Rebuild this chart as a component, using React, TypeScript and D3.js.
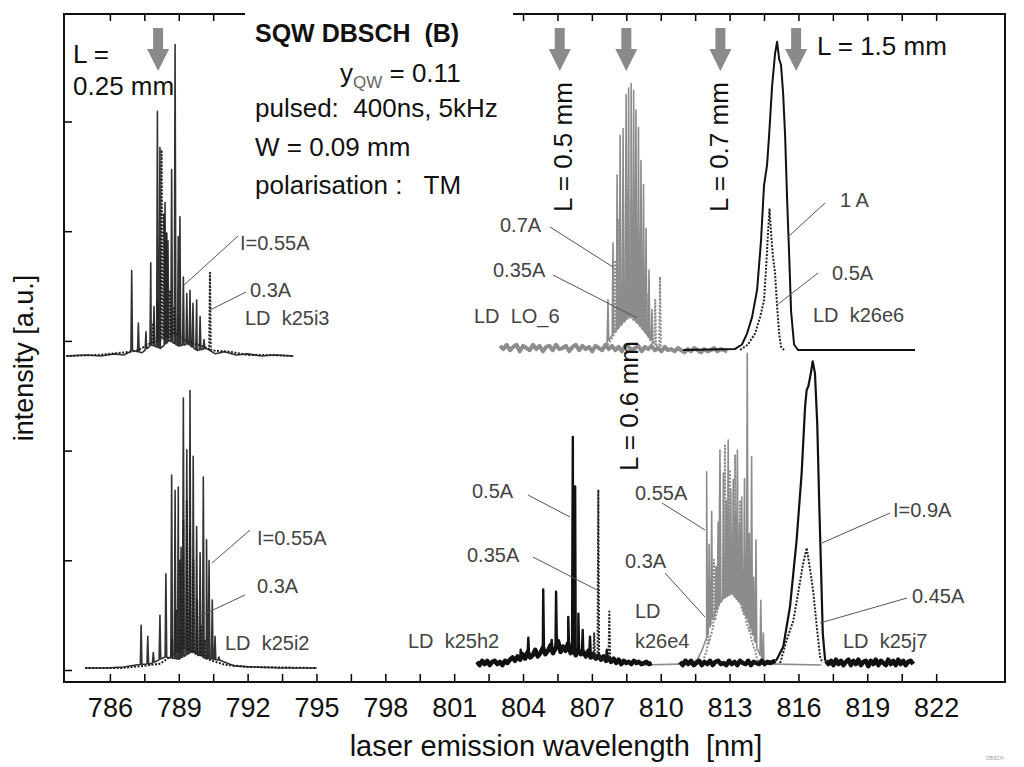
import * as d3 from "d3";
import { useEffect, useRef } from "react";

type P = [number, number];

// axes
const xLabels = [786, 789, 792, 795, 798, 801, 804, 807, 810, 813, 816, 819, 822];
const yTicks = [0, 1, 2, 3, 4, 5];

// cavity mode arrows (nm)
const arrowNm = [788.1, 805.6, 808.5, 812.6, 815.9];

// baselines of each group (a.u.)
const baseUL = 2.862;
const baseLO6 = 2.935;
const baseK26e6 = 2.917;
const baseLL = 0.018;
const baseK25h2 = 0.064;
const baseK26e4 = 0.046;
const baseK25j7 = 0.064;

// --- L = 0.25 mm, LD k25i3 ---
const k25i3Bg055: P[] = [[784.1, 0], [785.0, 0.01], [785.6, 0], [786.2, 0.02], [786.6, 0.01], [787.0, 0.05], [787.4, 0.03], [787.8, 0.1], [788.2, 0.07], [788.6, 0.14], [789.0, 0.09], [789.4, 0.11], [789.8, 0.05], [790.2, 0.07], [790.6, 0.02], [791.0, 0.04], [791.5, 0.01], [792.0, 0.02], [792.6, 0.0], [793.2, 0.01], [794.0, 0]];
const k25i3Modes055: P[] = [[786.95, 0.78], [787.24, 0.3], [787.57, 0.22], [787.78, 0.85], [787.92, 0.45], [788.07, 2.23], [788.18, 1.9], [788.4, 1.4], [788.53, 1.05], [788.69, 1.7], [788.84, 2.84], [788.98, 1.09], [789.05, 1.27], [789.2, 0.72], [789.35, 0.57], [789.49, 0.6], [789.62, 0.48], [789.78, 0.51], [789.93, 0.36], [790.1, 0.15]];
const k25i3Bg03: P[] = [[784.1, 0], [785.5, 0.01], [786.5, 0.03], [787.2, 0.05], [787.8, 0.12], [788.4, 0.16], [788.9, 0.2], [789.4, 0.13], [789.9, 0.1], [790.5, 0.05], [791.2, 0.04], [792.0, 0.01], [793.0, 0.01], [794.0, 0]];
const k25i3Modes03: P[] = [[787.88, 0.3], [788.09, 0.5], [788.25, 1.88], [788.36, 1.3], [788.47, 1.12], [788.62, 0.6], [788.8, 0.45], [789.0, 0.35], [790.36, 0.76]];

// --- L = 0.5 mm, LD LO_6 ---
const lo6Noise = [0.02, -0.01, 0.03, -0.02, 0.01, 0.03, -0.03, 0.02, 0.0, -0.02, 0.03, -0.01, 0.02, -0.03, 0.01, 0.02, -0.02, 0.03, -0.01, 0.0, 0.02, -0.03, 0.01, 0.03, -0.02, 0.02, -0.01, 0.01, -0.03, 0.02, 0.0, -0.02, 0.03, -0.01, 0.02, -0.02, 0.01, -0.03, 0.02, 0.01, -0.02, 0.0, 0.02, -0.03, 0.01, -0.01, 0.02, -0.02, 0.0, -0.03, 0.01, -0.02, -0.01, -0.03, 0.0, -0.02, -0.04, -0.01, -0.03, 0.0, -0.02, -0.04, -0.01, -0.03, -0.02, 0.0, -0.03, -0.01, -0.02, -0.03];
const lo6Bg07: P[] = [[807.5, 0], [808.0, 0.15], [808.7, 0.3], [809.4, 0.12], [809.9, 0]];
const lo6Modes07: P[] = [[807.7, 0.44], [807.92, 0.96], [808.1, 1.58], [808.23, 1.94], [808.36, 2.0], [808.49, 2.31], [808.6, 2.37], [808.71, 2.41], [808.82, 2.35], [808.92, 2.17], [809.03, 2.01], [809.14, 1.71], [809.25, 1.49], [809.36, 1.09], [809.49, 0.71], [809.62, 0.35]];
const lo6Bg035: P[] = [[807.6, 0], [807.9, 0.1], [808.5, 0.3], [809.2, 0.2], [809.6, 0.05], [810.3, 0]];
const lo6Modes035: P[] = [[808.01, 0.8], [808.18, 1.17], [808.36, 1.39], [808.53, 1.44], [808.71, 1.35], [808.88, 1.21], [809.06, 1.03], [809.23, 0.8], [809.41, 0.48], [809.76, 0.44], [809.97, 0.65]];

// --- L = 0.7 mm, LD k26e6 ---
const k26e6I1: P[] = [[810.97, 0], [813.24, 0.01], [813.54, 0.05], [813.76, 0.15], [813.98, 0.3], [814.2, 0.55], [814.37, 1.0], [814.5, 1.5], [814.63, 1.68], [814.72, 1.95], [814.85, 2.4], [814.98, 2.7], [815.07, 2.81], [815.16, 2.65], [815.24, 2.6], [815.33, 2.35], [815.42, 1.95], [815.51, 1.35], [815.59, 0.9], [815.68, 0.35], [815.81, 0.05], [815.98, 0], [821.08, 0]];
const k26e6I05: P[] = [[813.46, 0], [813.8, 0.05], [814.11, 0.15], [814.33, 0.3], [814.5, 0.45], [814.59, 0.75], [814.67, 1.05], [814.74, 1.29], [814.83, 1.0], [814.89, 0.85], [814.98, 0.7], [815.07, 0.4], [815.16, 0.15], [815.24, 0.03], [815.37, 0]];

// --- L = 0.25 mm, LD k25i2 ---
const k25i2Bg055: P[] = [[784.92, 0], [785.8, 0.0], [786.6, 0.01], [787.2, 0.03], [787.8, 0.04], [788.4, 0.1], [789.0, 0.08], [789.6, 0.15], [790.2, 0.09], [790.8, 0.07], [791.4, 0.02], [792.2, 0.01], [793.5, 0.0], [795.01, 0]];
const k25i2Modes055: P[] = [[787.36, 0.39], [787.65, 0.29], [787.89, 0.14], [788.18, 0.48], [788.44, 0.86], [788.69, 1.76], [788.84, 1.62], [788.98, 1.65], [789.1, 1.1], [789.2, 2.46], [789.35, 1.99], [789.49, 2.53], [789.63, 1.93], [789.78, 1.29], [789.93, 1.05], [790.07, 1.74], [790.21, 1.17], [790.32, 0.98], [790.46, 0.62], [790.58, 0.29], [790.75, 0.1]];
const k25i2Bg03: P[] = [[784.92, 0], [786.5, 0.0], [787.5, 0.02], [788.2, 0.04], [788.8, 0.13], [789.3, 0.18], [789.8, 0.12], [790.4, 0.07], [791.0, 0.03], [792.0, 0.01], [795.01, 0]];
const k25i2Modes03: P[] = [[788.71, 0.26], [788.88, 0.53], [789.05, 0.98], [789.2, 1.35], [789.35, 1.53], [789.49, 1.3], [789.64, 0.98], [789.8, 0.62], [789.97, 0.39], [790.14, 0.26]];

// --- L = 0.5 mm, LD k25h2 ---
const k25h2Noise = [0.01, -0.02, 0.02, -0.01, 0.02, -0.02, 0.01, 0.02, -0.01, 0.01, -0.02, 0.02, 0.0, 0.03, 0.05, 0.02, 0.06, 0.03, 0.08, 0.04, 0.1, 0.05, 0.07, 0.12, 0.06, 0.09, 0.14, 0.08, 0.11, 0.16, 0.09, 0.13, 0.2, 0.1, 0.15, 0.11, 0.18, 0.09, 0.13, 0.07, 0.12, 0.08, 0.1, 0.06, 0.11, 0.05, 0.08, 0.04, 0.07, 0.03, 0.06, 0.02, 0.05, 0.01, 0.04, 0.0, 0.03, -0.01, 0.02, 0.0, 0.01, -0.01, 0.02, 0.0, 0.01, -0.01, 0.0, 0.01, -0.01, 0.0];
const k25h2Modes05: P[] = [[803.9, 0.12], [804.23, 0.23], [804.88, 0.67], [805.25, 0.21], [805.44, 0.65], [805.97, 0.42], [806.17, 2.06], [806.27, 1.61], [806.41, 0.45], [806.6, 0.3], [806.92, 0.24], [807.65, 0.12]];
const k25h2Bg035: P[] = [[806.7, 0.05], [807.9, 0.03]];
const k25h2Modes035: P[] = [[807.1, 0.27], [807.28, 1.58], [807.76, 0.47]];

// --- L = 0.6 mm, LD k26e4 ---
const k26e4Bg055: P[] = [[809.1, 0], [811.3, 0.01], [811.6, 0.05], [811.79, 0.13], [812.0, 0.25], [812.3, 0.45], [812.7, 0.6], [813.1, 0.65], [813.5, 0.55], [813.9, 0.35], [814.2, 0.15], [814.5, 0.01], [817.0, 0]];
const k26e4Modes055: P[] = [[812.0, 1.76], [812.11, 1.1], [812.22, 1.4], [812.41, 0.9], [812.5, 1.3], [812.58, 1.96], [812.73, 1.75], [812.85, 1.5], [812.94, 2.05], [813.05, 1.6], [813.16, 1.69], [813.25, 1.4], [813.34, 1.96], [813.44, 1.3], [813.53, 1.53], [813.65, 1.7], [813.77, 2.84], [813.86, 1.2], [813.96, 1.9], [814.05, 0.8], [814.15, 1.14], [814.36, 0.59], [814.47, 0.29]];
const k26e4Bg03: P[] = [[811.8, 0], [812.1, 0.2], [812.6, 0.6], [813.0, 0.7], [813.4, 0.6], [813.8, 0.35], [814.2, 0.05], [814.4, 0]];
const k26e4Modes03: P[] = [[812.06, 0.32], [812.32, 0.96], [812.58, 1.78], [812.8, 2.0], [813.02, 1.78], [813.24, 1.91], [813.46, 1.5], [813.67, 0.96], [813.89, 0.41], [814.11, 0.14]];

// --- L = 1.5 mm, LD k25j7 ---
const k25j7NoiseL = [0.01, -0.02, 0.02, -0.01, 0.02, -0.02, 0.0, 0.02, -0.02, 0.01, -0.01, 0.02, -0.02, 0.01, 0.02, -0.01, 0.0, -0.02, 0.02, -0.01, 0.01, -0.02, 0.02, 0.0, -0.01, 0.02, -0.02, 0.01, 0.0, -0.01, 0.02, -0.01, 0.01, 0.0, 0.01, 0.02];
const k25j7Peak09: P[] = [[815.0, 0.02], [815.05, 0.03], [815.34, 0.15], [815.63, 0.51], [815.92, 1.12], [816.14, 1.73], [816.29, 2.34], [816.36, 2.49], [816.43, 2.52], [816.54, 2.64], [816.62, 2.75], [816.72, 2.64], [816.82, 2.18], [816.91, 1.42], [816.99, 0.82], [817.06, 0.27], [817.16, 0.03], [817.2, 0.02]];
const k25j7NoiseR = [0.02, -0.01, 0.02, -0.02, 0.03, -0.01, 0.02, -0.02, 0.01, 0.03, -0.02, 0.02, -0.01, 0.03, -0.02, 0.01, 0.02, -0.03, 0.02, -0.01, 0.03, -0.02, 0.02, 0.0, -0.02, 0.03, -0.01, 0.02, -0.02, 0.03, -0.01, 0.02, -0.02, 0.01, 0.02, -0.01];
const k25j7Peak045: P[] = [[815.2, 0], [815.49, 0.21], [815.78, 0.39], [815.99, 0.64], [816.18, 0.88], [816.36, 1.05], [816.51, 0.85], [816.65, 0.64], [816.8, 0.33], [816.94, 0.06], [817.05, 0]];

const sampled = (from: number, to: number, vals: number[]): P[] =>
  vals.map((v, i) => [from + (i * (to - from)) / (vals.length - 1), v]);

// merge a background trace with narrow mode spikes
const withModes = (bg: P[], modes: P[], half = 0.035): P[] => {
  const b = d3.scaleLinear().domain(bg.map(d => d[0])).range(bg.map(d => d[1])).clamp(true);
  const pts: P[] = bg.map(d => [d[0], d[1]]);
  modes.forEach(([l, h]) => {
    pts.push([l - half, b(l - half)], [l, h], [l + half, b(l + half)]);
  });
  return pts.sort((a, c) => a[0] - c[0]);
};

const FONT = "'Liberation Sans', Arial, sans-serif";

export default function App() {
  const ref = useRef<SVGSVGElement>(null);

  useEffect(() => {
    const svg = d3.select(ref.current);
    svg.selectAll("*").remove();

    const x = d3.scaleLinear().domain([784, 825]).range([64, 1005]);
    const y = d3.scaleLinear().domain([0, 5]).range([670, 121.5]);
    const top = 14, bottom = 682, left = 64, right = 1005;

    svg.append("rect").attr("width", 1024).attr("height", 767).attr("fill", "#fff");

    const gray = "#8c8c8c";
    const dots = "2,1.5";
    const spectra = [
      { base: baseLO6, pts: sampled(803.0, 812.9, lo6Noise), color: gray, w: 4, dash: null },
      { base: baseLO6, pts: withModes(lo6Bg07, lo6Modes07), color: gray, w: 1.6, dash: null },
      { base: baseLO6, pts: withModes(lo6Bg035, lo6Modes035), color: gray, w: 2, dash: dots },
      { base: baseK26e4, pts: withModes(k26e4Bg055, k26e4Modes055), color: gray, w: 1.6, dash: null },
      { base: baseK26e4, pts: withModes(k26e4Bg03, k26e4Modes03), color: gray, w: 2, dash: dots },
      { base: baseUL, pts: withModes(k25i3Bg055, k25i3Modes055), color: "#333", w: 1.6, dash: null },
      { base: baseUL, pts: withModes(k25i3Bg03, k25i3Modes03), color: "#222", w: 2, dash: dots },
      { base: baseK26e6, pts: k26e6I1, color: "#111", w: 2, dash: null },
      { base: baseK26e6, pts: k26e6I05, color: "#222", w: 2, dash: dots },
      { base: baseLL, pts: withModes(k25i2Bg055, k25i2Modes055), color: "#333", w: 1.6, dash: null },
      { base: baseLL, pts: withModes(k25i2Bg03, k25i2Modes03), color: "#222", w: 2, dash: dots },
      { base: baseK25h2, pts: sampled(802.0, 809.6, k25h2Noise), color: "#111", w: 4.5, dash: null },
      { base: baseK25h2, pts: withModes(sampled(802.0, 809.6, k25h2Noise), k25h2Modes05), color: "#111", w: 2.4, dash: null },
      { base: baseK25h2, pts: withModes(k25h2Bg035, k25h2Modes035), color: "#222", w: 2, dash: dots },
      { base: baseK25j7, pts: sampled(810.84, 815.0, k25j7NoiseL), color: "#111", w: 4.5, dash: null },
      { base: baseK25j7, pts: sampled(817.2, 821.0, k25j7NoiseR), color: "#111", w: 4.5, dash: null },
      { base: baseK25j7, pts: k25j7Peak09, color: "#111", w: 2.2, dash: null },
      { base: baseK25j7, pts: k25j7Peak045, color: "#222", w: 2, dash: dots },
    ];

    const g = svg.append("g");
    spectra.forEach(s => {
      const line = d3.line<P>().x(d => x(d[0])).y(d => y(s.base + d[1]));
      g.append("path")
        .attr("d", line(s.pts))
        .attr("fill", "none")
        .attr("stroke", s.color)
        .attr("stroke-width", s.w)
        .attr("stroke-linejoin", "round")
        .attr("stroke-dasharray", s.dash);
    });

    // frame + ticks
    const minor = d3.range(786, 822.01, 1.5);
    svg.append("g")
      .attr("transform", `translate(0,${bottom})`)
      .call(d3.axisBottom(x).tickValues(minor).tickSize(-8).tickPadding(16)
        .tickFormat(d => (xLabels.includes(+d) ? String(d) : "")))
      .call(a => a.select(".domain").remove())
      .call(a => a.selectAll("line").attr("stroke-width", 1.5))
      .call(a => a.selectAll("text").attr("font-size", 27).attr("font-family", FONT).attr("fill", "#111"));
    svg.append("g")
      .attr("transform", `translate(0,${top})`)
      .call(d3.axisTop(x).tickValues(minor).tickSize(-7).tickFormat(() => ""))
      .call(a => a.select(".domain").remove())
      .call(a => a.selectAll("line").attr("stroke-width", 1.5));
    svg.append("g")
      .attr("transform", `translate(${left},0)`)
      .call(d3.axisLeft(y).tickValues(yTicks).tickSize(-8).tickFormat(() => ""))
      .call(a => a.select(".domain").remove())
      .call(a => a.selectAll("line").attr("stroke-width", 1.5));
    svg.append("rect")
      .attr("x", left).attr("y", top).attr("width", right - left).attr("height", bottom - top)
      .attr("fill", "none").attr("stroke", "#111").attr("stroke-width", 2);
    // title box hides the top edge
    svg.append("rect").attr("x", 245).attr("y", 0).attr("width", 268).attr("height", 22).attr("fill", "#fff");

    // arrows
    arrowNm.forEach(l => {
      const cx = x(l);
      svg.append("path")
        .attr("d", `M${cx - 5},28 L${cx + 5},28 L${cx + 5},49 L${cx + 11},49 L${cx},71 L${cx - 11},49 L${cx - 5},49 Z`)
        .attr("fill", "#8a8a8a");
    });

    const text = (t: string, px: number, py: number, size: number, fill = "#111", weight = "normal") =>
      svg.append("text").attr("x", px).attr("y", py).attr("font-size", size).attr("font-family", FONT)
        .attr("font-weight", weight).attr("fill", fill).style("white-space", "pre").text(t);

    // header
    text("SQW DBSCH  (B)", 255, 42, 25, "#111", "bold");
    const yq = text("y", 340, 82, 26);
    yq.append("tspan").attr("dy", 6).attr("font-size", 17).attr("fill", "#666").text("QW");
    yq.append("tspan").attr("dy", -6).text(" = 0.11");
    text("pulsed:  400ns, 5kHz", 255, 117, 26);
    text("W = 0.09 mm", 255, 156, 26);
    text("polarisation :   TM", 255, 194, 26);

    text("L =", 73, 63, 26);
    text("0.25 mm", 73, 95, 26);
    text("L = 1.5 mm", 817, 55, 26);
    [["L = 0.5 mm", 572, 212], ["L = 0.7 mm", 728, 212], ["L = 0.6 mm", 638, 471]].forEach(([t, px, py]) => {
      svg.append("text").attr("transform", `translate(${px},${py}) rotate(-90)`)
        .attr("font-size", 26).attr("font-family", FONT).attr("fill", "#111").text(t as string);
    });

    // annotations
    const small = "#444";
    const notes: [string, number, number][] = [
      ["I=0.55A", 240, 250], ["0.3A", 250, 297], ["LD  k25i3", 245, 325],
      ["0.7A", 500, 232], ["0.35A", 493, 277], ["LD  LO_6", 474, 323],
      ["1 A", 840, 207], ["0.5A", 832, 280], ["LD  k26e6", 813, 322],
      ["I=0.55A", 257, 545], ["0.3A", 257, 593], ["LD  k25i2", 225, 650],
      ["0.5A", 472, 498], ["0.35A", 467, 562], ["LD  k25h2", 408, 648],
      ["0.55A", 635, 500], ["0.3A", 625, 568], ["LD", 635, 618], ["k26e4", 635, 648],
      ["I=0.9A", 893, 517], ["0.45A", 912, 603], ["LD  k25j7", 843, 648],
    ];
    notes.forEach(([t, px, py]) => text(t, px, py, 20, small));
    const leaders = [
      [238, 236, 183, 286], [246, 292, 210, 310],
      [550, 227, 613, 267], [553, 275, 637, 318],
      [825, 203, 788, 237], [818, 273, 777, 305],
      [250, 530, 212, 563], [245, 595, 198, 617],
      [528, 495, 570, 517], [533, 557, 597, 590],
      [662, 503, 705, 530], [665, 573, 705, 617],
      [890, 513, 822, 543], [907, 598, 820, 623],
    ];
    leaders.forEach(([x1, y1, x2, y2]) => {
      svg.append("line").attr("x1", x1).attr("y1", y1).attr("x2", x2).attr("y2", y2)
        .attr("stroke", "#555").attr("stroke-width", 1);
    });

    // axis titles
    svg.append("text").attr("transform", "translate(33,358) rotate(-90)")
      .attr("text-anchor", "middle").attr("font-size", 27).attr("font-family", FONT).attr("fill", "#111")
      .text("intensity [a.u.]");
    svg.append("text").attr("x", 556).attr("y", 756).attr("text-anchor", "middle")
      .attr("font-size", 29).attr("font-family", FONT).attr("fill", "#111").style("white-space", "pre")
      .text("laser emission wavelength  [nm]");
    text("DBSCH", 986, 760, 5, "#999");
  }, []);

  return <svg ref={ref} width={1024} height={767} style={{ position: "absolute", left: 0, top: 0 }} />;
}
